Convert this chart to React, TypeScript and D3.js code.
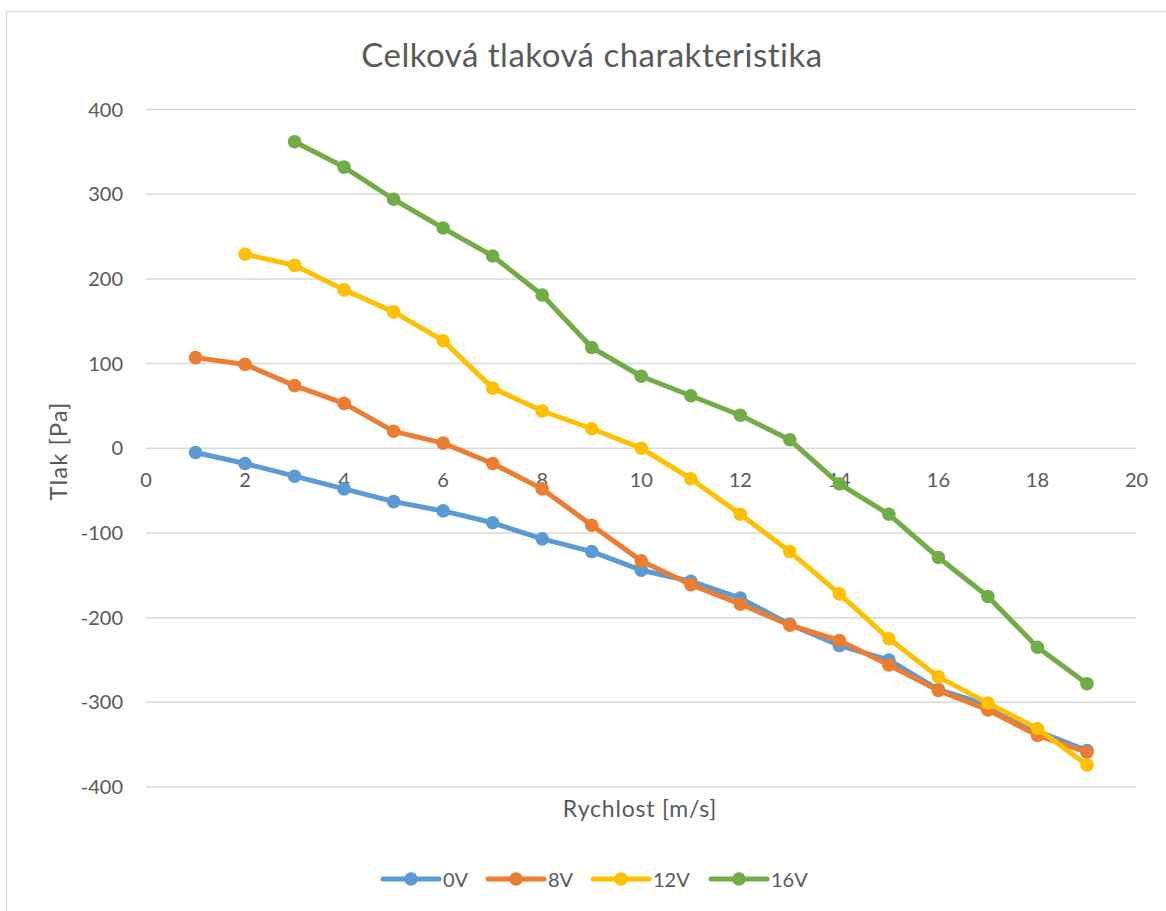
import React from "react";
import * as d3 from "d3";

// Rychlost [m/s]
const speeds0V = [1, 2, 3, 4, 5, 6, 7, 8, 9, 10, 11, 12, 13, 14, 15, 16, 17, 18, 19];
const speeds8V = [1, 2, 3, 4, 5, 6, 7, 8, 9, 10, 11, 12, 13, 14, 15, 16, 17, 18, 19];
const speeds12V = [2, 3, 4, 5, 6, 7, 8, 9, 10, 11, 12, 13, 14, 15, 16, 17, 18, 19];
const speeds16V = [3, 4, 5, 6, 7, 8, 9, 10, 11, 12, 13, 14, 15, 16, 17, 18, 19];

// Tlak [Pa]
const pressure0V = [-5, -18, -33, -48, -63, -74, -88, -107, -122, -144, -157, -177, -208, -233, -250, -285, -303, -334, -357];
const pressure8V = [107, 99, 74, 53, 20, 6, -18, -48, -91, -133, -161, -184, -209, -227, -256, -286, -309, -339, -359];
const pressure12V = [229, 216, 187, 161, 127, 71, 44, 23, 0, -36, -78, -122, -172, -225, -270, -301, -331, -374];
const pressure16V = [362, 332, 294, 260, 227, 181, 119, 85, 62, 39, 10, -42, -78, -129, -175, -235, -278];

const seriesNames = ["0V", "8V", "12V", "16V"];
const seriesColors = ["#5B9BD5", "#ED7D31", "#FFC000", "#70AD47"];

const xTicks = [0, 2, 4, 6, 8, 10, 12, 14, 16, 18, 20];
const yTicks = [-400, -300, -200, -100, 0, 100, 200, 300, 400];

const W = 1166;
const H = 911;
const FONT = "Lato, 'Open Sans', sans-serif";
const TEXT = "#595959";

export default function App() {
  const x = d3.scaleLinear().domain([0, 20]).range([146, 1136.5]);
  const y = d3.scaleLinear().domain([-400, 400]).range([787, 109.5]);

  const series = [
    { name: seriesNames[0], color: seriesColors[0], xs: speeds0V, ys: pressure0V },
    { name: seriesNames[1], color: seriesColors[1], xs: speeds8V, ys: pressure8V },
    { name: seriesNames[2], color: seriesColors[2], xs: speeds12V, ys: pressure12V },
    { name: seriesNames[3], color: seriesColors[3], xs: speeds16V, ys: pressure16V },
  ];

  const line = d3
    .line<[number, number]>()
    .x((d) => x(d[0]))
    .y((d) => y(d[1]));

  const legendX = [383, 488, 593, 711];
  const legendY = 879;

  return (
    <svg
      width={W}
      height={H}
      style={{ position: "absolute", left: 0, top: 0, background: "#fff" }}
      fontFamily={FONT}
    >
      <rect x={0} y={0} width={W} height={H} fill="#fff" />
      <rect x={6.5} y={11.5} width={W + 20} height={H + 20} fill="none" stroke="#D9D9D9" strokeWidth={1.5} />

      <text x={592} y={67} textAnchor="middle" fontSize={33} letterSpacing={0.5} fill={TEXT}>
        Celková tlaková charakteristika
      </text>

      {yTicks.map((t) => (
        <g key={"y" + t}>
          <line x1={x(0)} x2={x(20)} y1={y(t)} y2={y(t)} stroke="#D9D9D9" strokeWidth={1.5} />
          <text x={123} y={y(t)} dy="0.35em" textAnchor="end" fontSize={20} fill={TEXT}>
            {t}
          </text>
        </g>
      ))}

      {xTicks.map((t) => (
        <text key={"x" + t} x={x(t)} y={y(0) + 39} textAnchor="middle" fontSize={20} fill={TEXT}>
          {t}
        </text>
      ))}

      <text x={640} y={817} textAnchor="middle" fontSize={23} letterSpacing={0.8} fill={TEXT}>
        Rychlost [m/s]
      </text>
      <text
        transform={`translate(67, 451) rotate(-90)`}
        textAnchor="middle"
        fontSize={24}
        letterSpacing={1}
        fill={TEXT}
      >
        Tlak [Pa]
      </text>

      {series.map((s) => {
        const pts: [number, number][] = s.xs.map((v, i) => [v, s.ys[i]]);
        return (
          <g key={s.name}>
            <path d={line(pts) || ""} fill="none" stroke={s.color} strokeWidth={5} strokeLinejoin="round" strokeLinecap="round" />
            {pts.map((p, i) => (
              <circle key={i} cx={x(p[0])} cy={y(p[1])} r={6.8} fill={s.color} />
            ))}
          </g>
        );
      })}

      {series.map((s, i) => (
        <g key={"lg" + s.name}>
          <line x1={legendX[i]} x2={legendX[i] + 56} y1={legendY} y2={legendY} stroke={s.color} strokeWidth={5} strokeLinecap="round" />
          <circle cx={legendX[i] + 28} cy={legendY} r={6.8} fill={s.color} />
          <text x={legendX[i] + 60} y={legendY + 8} fontSize={20} fill={TEXT}>
            {s.name}
          </text>
        </g>
      ))}
    </svg>
  );
}
